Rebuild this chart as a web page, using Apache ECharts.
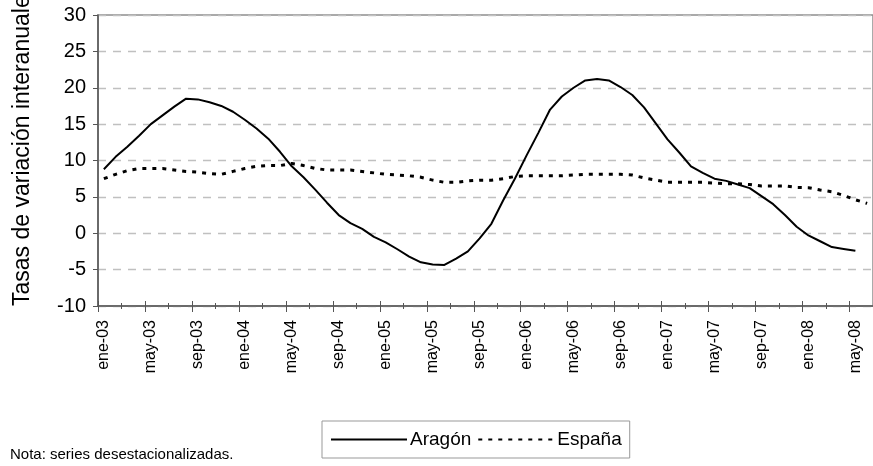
<!DOCTYPE html>
<html>
<head>
<meta charset="utf-8">
<script src="https://cdn.jsdelivr.net/npm/echarts@6/dist/echarts.min.js"></script>
<style>
html,body{margin:0;padding:0;background:#fff;}
#chart{width:873px;height:466px;}
</style>
</head>
<body>
<div id="chart"></div>
<script>
const months = ['ene','feb','mar','abr','may','jun','jul','ago','sep','oct','nov','dic'];
const years = ['03','04','05','06','07','08'];
const categories = [];
years.forEach(y => months.forEach(m => categories.push(m + '-' + y)));
categories.length = 66; // ene-03 .. jun-08

const aragon = [
  8.8, 10.5, 11.9, 13.4, 15.0, 16.2, 17.4, 18.5, 18.4, 18.0, 17.5, 16.7,
  15.6, 14.4, 13.0, 11.2, 9.2, 7.7, 6.0, 4.2, 2.5, 1.4, 0.6, -0.5,
  -1.25, -2.2, -3.2, -4.0, -4.3, -4.35, -3.5, -2.5, -0.7, 1.3, 4.5, 7.5,
  10.7, 13.8, 17.0, 18.8, 20.0, 21.0, 21.2, 21.0, 20.1, 19.0, 17.3, 15.1,
  12.9, 11.1, 9.2, 8.3, 7.5, 7.2, 6.7, 6.2, 5.1, 4.0, 2.5, 0.9,
  -0.3, -1.1, -1.9, -2.15, -2.4, null
];
const espana = [
  7.5, 8.1, 8.6, 8.9, 8.9, 8.9, 8.7, 8.5, 8.4, 8.2, 8.1, 8.5,
  8.9, 9.2, 9.3, 9.3, 9.6, 9.3, 8.9, 8.7, 8.7, 8.7, 8.5, 8.3,
  8.1, 8.0, 7.9, 7.7, 7.3, 7.0, 7.0, 7.2, 7.3, 7.3, 7.5, 7.8,
  7.9, 7.9, 7.9, 7.9, 8.0, 8.1, 8.1, 8.1, 8.1, 8.0, 7.6, 7.3,
  7.0, 7.0, 7.0, 7.0, 6.9, 6.8, 6.8, 6.7, 6.5, 6.5, 6.5, 6.3,
  6.26, 5.95, 5.7, 5.2, 4.6, 4.1
];

const yTitle = 'Tasas de variación interanuales';
const note = 'Nota: series desestacionalizadas.';
const seriesNames = ['Aragón', 'España'];

const FONT = 'Liberation Sans, Arial, sans-serif';
const chart = echarts.init(document.getElementById('chart'), null, {renderer: 'canvas'});

function xAxisBase(extra) {
  return Object.assign({
    type: 'category', data: categories, gridIndex: 0, position: 'bottom',
    boundaryGap: true,
    axisLine: {show: false, onZero: false}, axisLabel: {show: false},
    splitLine: {show: false}
  }, extra);
}

chart.setOption({
  animation: false,
  backgroundColor: '#ffffff',
  grid: {left: 98, top: 15, width: 782, height: 291, show: true,
         borderColor: '#8f8f8f', borderWidth: 1.5, backgroundColor: 'transparent'},
  xAxis: [
    xAxisBase({
      axisLine: {show: true, onZero: false, lineStyle: {color: '#555', width: 1.5}},
      axisTick: {show: true, interval: 1, length: 3, inside: false, lineStyle: {color: '#555', width: 1}},
      axisLabel: {show: true, interval: 3, rotate: 90, margin: 14,
                  fontFamily: FONT, fontSize: 16, color: '#000'}
    }),
    xAxisBase({axisTick: {show: true, interval: 3, length: 6, inside: false, lineStyle: {color: '#555', width: 1}}}),
    xAxisBase({axisTick: {show: true, interval: 1, length: 3, inside: true, lineStyle: {color: '#555', width: 1}}}),
    xAxisBase({axisTick: {show: true, interval: 3, length: 5, inside: true, lineStyle: {color: '#555', width: 1}}})
  ],
  yAxis: {
    type: 'value', min: -10, max: 30, interval: 5,
    axisLine: {show: true, lineStyle: {color: '#555', width: 1.5}},
    axisTick: {show: true, length: 5, lineStyle: {color: '#555'}},
    axisLabel: {fontFamily: FONT, fontSize: 20, color: '#000', margin: 12},
    splitLine: {show: true, lineStyle: {color: '#c0c0c0', type: [8, 7], width: 1.3}}
  },
  legend: {
    left: 322, top: 421, width: 306,
    padding: [9, 8, 9, 8],
    itemWidth: 76, itemHeight: 12, itemGap: 6,
    borderColor: '#999', borderWidth: 1,
    itemStyle: {opacity: 0},
    textStyle: {fontFamily: FONT, fontSize: 19, color: '#000', padding: [0, 0, 0, -2]},
    data: seriesNames
  },
  graphic: [
    {type: 'text', x: 23, y: 306, rotation: Math.PI / 2,
     style: {text: yTitle, font: '23px ' + FONT, fill: '#000', textAlign: 'left', textVerticalAlign: 'middle'}},
    {type: 'text', x: 10, y: 455,
     style: {text: note, font: '15px ' + FONT, fill: '#000', textAlign: 'left', textVerticalAlign: 'middle'}}
  ],
  series: [
    {name: seriesNames[0], type: 'line', data: aragon, symbol: 'none', xAxisIndex: 0,
     lineStyle: {color: '#000', width: 2}, itemStyle: {color: '#000'}},
    {name: seriesNames[1], type: 'line', data: espana, symbol: 'none', xAxisIndex: 0,
     lineStyle: {color: '#000', width: 3, type: [4, 6]}, itemStyle: {color: '#000'}}
  ]
});
</script>
</body>
</html>
